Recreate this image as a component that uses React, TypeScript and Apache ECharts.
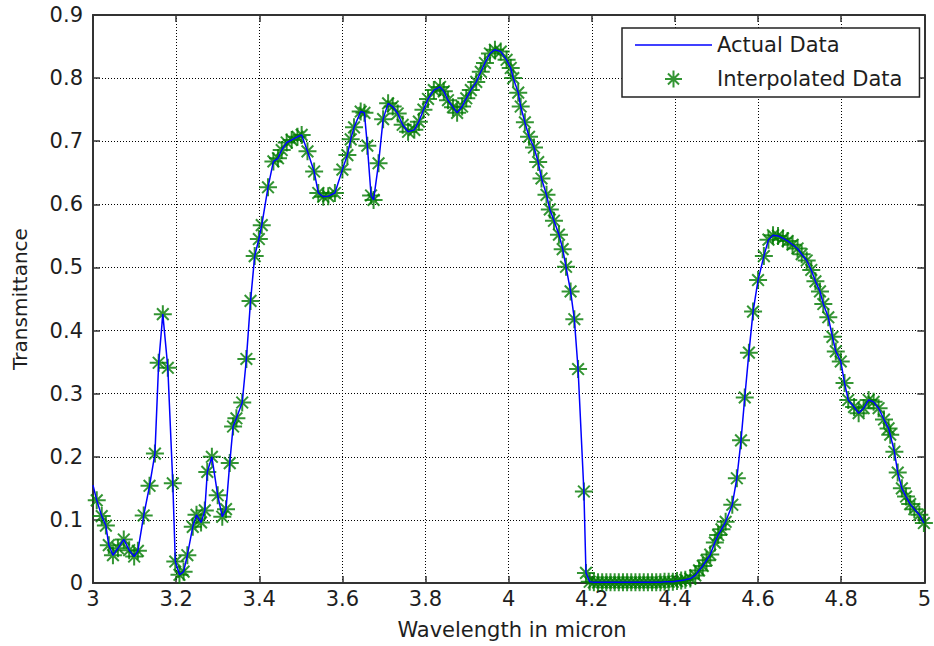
import React, { useEffect, useRef } from "react";
import * as echarts from "echarts";

// Interpolated samples (wavelength in micron, transmittance)
const wavelength = [
  3.009, 3.021, 3.031, 3.038, 3.048, 3.06, 3.074, 3.087, 3.099, 3.108,
  3.122, 3.136, 3.149, 3.158, 3.168, 3.18, 3.192, 3.198, 3.208, 3.218,
  3.227, 3.24, 3.249, 3.26, 3.269, 3.275, 3.286, 3.3, 3.311, 3.32,
  3.329, 3.337, 3.345, 3.359, 3.369, 3.379, 3.389, 3.399, 3.406, 3.421,
  3.434, 3.445, 3.454, 3.466, 3.478, 3.492, 3.502, 3.516, 3.532, 3.542,
  3.554, 3.566, 3.582, 3.6, 3.612, 3.62, 3.628, 3.644, 3.653, 3.66,
  3.669, 3.675, 3.687, 3.698, 3.71, 3.721, 3.733, 3.745, 3.758, 3.773,
  3.784, 3.795, 3.806, 3.82, 3.835, 3.844, 3.854, 3.866, 3.876, 3.888,
  3.898, 3.909, 3.922, 3.933, 3.943, 3.955, 3.967, 3.981, 3.995, 4.005,
  4.011, 4.023, 4.029, 4.039, 4.049, 4.061, 4.071, 4.079, 4.091, 4.099,
  4.109, 4.121, 4.13, 4.138, 4.149, 4.158, 4.167, 4.181, 4.186, 4.195,
  4.205, 4.215, 4.225, 4.235, 4.245, 4.255, 4.265, 4.275, 4.285, 4.295,
  4.305, 4.315, 4.325, 4.335, 4.345, 4.355, 4.365, 4.375, 4.385, 4.395,
  4.405, 4.415, 4.425, 4.437, 4.449, 4.458, 4.467, 4.476, 4.485, 4.496,
  4.504, 4.512, 4.522, 4.538, 4.549, 4.559, 4.568, 4.578, 4.588, 4.6,
  4.614, 4.625, 4.636, 4.648, 4.66, 4.671, 4.683, 4.695, 4.705, 4.717,
  4.728, 4.738, 4.749, 4.757, 4.769, 4.779, 4.787, 4.799, 4.808, 4.817,
  4.831, 4.842, 4.854, 4.866, 4.878, 4.89, 4.903, 4.914, 4.918, 4.928,
  4.936, 4.946, 4.956, 4.966, 4.976, 4.988, 4.999,
];

const transmittance = [
  0.131, 0.106, 0.091, 0.06, 0.044, 0.055, 0.069, 0.052, 0.042, 0.051,
  0.107, 0.154, 0.205, 0.349, 0.426, 0.341, 0.158, 0.034, 0.013, 0.018,
  0.044, 0.089, 0.108, 0.096, 0.115, 0.176, 0.2, 0.139, 0.105, 0.117,
  0.19, 0.248, 0.261, 0.286, 0.355, 0.447, 0.518, 0.545, 0.567, 0.627,
  0.668, 0.673, 0.686, 0.698, 0.702, 0.707, 0.71, 0.684, 0.652, 0.618,
  0.612, 0.613, 0.618, 0.655, 0.678, 0.703, 0.722, 0.747, 0.745, 0.693,
  0.614, 0.607, 0.665, 0.735, 0.76, 0.755, 0.744, 0.726, 0.715, 0.718,
  0.731, 0.75, 0.767, 0.781, 0.786, 0.779, 0.765, 0.754, 0.745, 0.755,
  0.768, 0.781, 0.794, 0.81, 0.824, 0.839, 0.845, 0.842, 0.829, 0.816,
  0.8, 0.777, 0.755, 0.73, 0.707, 0.69, 0.667, 0.641, 0.615, 0.592,
  0.574, 0.552, 0.529, 0.501, 0.462, 0.418, 0.339, 0.145, 0.016, 0.002,
  0.001, 0.001, 0.001, 0.001, 0.001, 0.001, 0.001, 0.001, 0.001, 0.001,
  0.001, 0.001, 0.001, 0.001, 0.001, 0.001, 0.001, 0.002, 0.002, 0.002,
  0.003, 0.004, 0.005, 0.007, 0.012, 0.02, 0.027, 0.036, 0.045, 0.064,
  0.076, 0.085, 0.097, 0.124, 0.166, 0.226, 0.294, 0.365, 0.43, 0.48,
  0.518, 0.544, 0.551, 0.55, 0.546, 0.542, 0.536, 0.53, 0.521, 0.511,
  0.496, 0.478, 0.462, 0.442, 0.421, 0.39, 0.367, 0.351, 0.317, 0.29,
  0.279, 0.269, 0.277, 0.29, 0.287, 0.277, 0.259, 0.245, 0.235, 0.208,
  0.175, 0.15, 0.137, 0.125, 0.117, 0.108, 0.095,
];

// The measured (actual) curve starts at the left edge before the first interpolated sample
const actualStartWavelength = 3.0;
const actualStartTransmittance = 0.155;

const seriesNames = ["Actual Data", "Interpolated Data"];
const xLabel = "Wavelength in micron";
const yLabel = "Transmittance";

const FONT = "DejaVu Sans";
const TEXT = "#1e1e1e";
const AXIS = "#333333";

export default function App() {
  const ref = useRef<HTMLDivElement>(null);

  useEffect(() => {
    document.body.style.margin = "0";
    const chart = echarts.init(ref.current!, null, { renderer: "svg" });

    const markerData = wavelength.map((x, i) => [x, transmittance[i]]);
    const lineData = [[actualStartWavelength, actualStartTransmittance], ...markerData];

    const star = "path://M0,-10L0,10M-10,0L10,0M-6.5,-6.5L6.5,6.5M-6.5,6.5L6.5,-6.5";
    const lineIcon = "path://M0,0L77,0L77,1.6L0,1.6Z";

    const axisLine = { show: true, onZero: false, lineStyle: { color: AXIS, width: 2 } };
    const axisTick = { show: true, inside: true, length: 7, lineStyle: { color: AXIS, width: 1.5 } };
    const gridLine = { show: true, lineStyle: { color: "#000", width: 1, type: [1, 2] } };
    const labelStyle = { fontFamily: FONT, fontSize: 21, color: TEXT };

    const xBase = { type: "value", min: 3, max: 5, interval: 0.2 };
    const yBase = { type: "value", min: 0, max: 0.9, interval: 0.1 };

    chart.setOption({
      animation: false,
      backgroundColor: "#fff",
      grid: { left: 93, right: 3, top: 15, bottom: 63, containLabel: false },
      xAxis: [
        {
          ...xBase,
          position: "bottom",
          axisLine,
          axisTick,
          splitLine: gridLine,
          axisLabel: {
            ...labelStyle,
            margin: 5,
            formatter: (v: number) => String(+v.toFixed(1)),
          },
        },
        {
          ...xBase,
          position: "top",
          axisLine,
          axisTick,
          splitLine: { show: false },
          axisLabel: { show: false },
        },
      ],
      yAxis: [
        {
          ...yBase,
          position: "left",
          axisLine,
          axisTick,
          splitLine: gridLine,
          axisLabel: {
            ...labelStyle,
            margin: 10,
            formatter: (v: number) => String(+v.toFixed(1)),
          },
        },
        {
          ...yBase,
          position: "right",
          axisLine,
          axisTick,
          splitLine: { show: false },
          axisLabel: { show: false },
        },
      ],
      legend: {
        data: [
          { name: seriesNames[0], icon: lineIcon, itemStyle: { color: "#0000ff" } },
          { name: seriesNames[1] },
        ],
        orient: "vertical",
        left: 622,
        top: 28,
        itemWidth: 77,
        itemHeight: 17,
        itemGap: 12,
        padding: [6, 17, 7, 13],
        borderColor: "#222",
        borderWidth: 1.5,
        backgroundColor: "#fff",
        selectedMode: false,
        z: 10,
        textStyle: { fontFamily: FONT, fontSize: 21, color: TEXT, lineHeight: 22 },
      },
      graphic: [
        {
          type: "text",
          x: 512,
          y: 630,
          style: {
            text: xLabel,
            fontFamily: FONT,
            fontSize: 21,
            fill: TEXT,
            align: "center",
            verticalAlign: "middle",
          },
        },
        {
          type: "text",
          x: 20,
          y: 299,
          rotation: Math.PI / 2,
          style: {
            text: yLabel,
            fontFamily: FONT,
            fontSize: 20,
            fill: TEXT,
            align: "center",
            verticalAlign: "middle",
          },
        },
      ],
      series: [
        {
          name: seriesNames[0],
          type: "line",
          data: lineData,
          symbol: "none",
          lineStyle: { color: "#0000ff", width: 1.5 },
          itemStyle: { color: "#0000ff" },
          z: 3,
        },
        {
          name: seriesNames[1],
          type: "scatter",
          data: markerData,
          symbol: star,
          symbolSize: 18,
          itemStyle: { color: "#007a00", borderColor: "#007a00", borderWidth: 2 },
          z: 2,
        },
      ],
    });

    return () => chart.dispose();
  }, []);

  return <div ref={ref} style={{ width: 934, height: 646 }} />;
}
